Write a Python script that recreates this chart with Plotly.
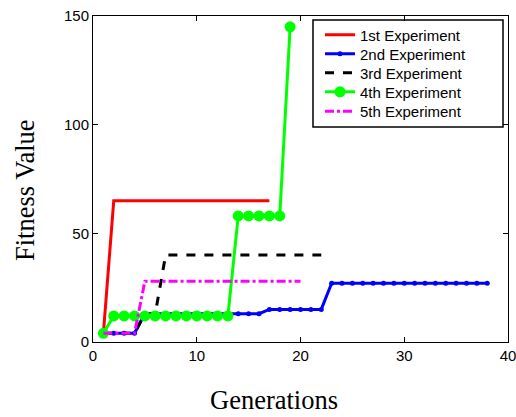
import plotly.graph_objects as go

gens1 = list(range(1, 18))
exp1 = [4] + [65] * 16

gens2 = list(range(1, 39))
exp2 = [4] * 4 + [13] * 12 + [15] * 6 + [27] * 16

gens3 = list(range(1, 23))
exp3 = [4] * 4 + [13] * 2 + [40] * 16

gens4 = list(range(1, 20))
exp4 = [4] + [12] * 12 + [58] * 5 + [145]

gens5 = list(range(1, 21))
exp5 = [4] * 4 + [28] * 16

names = ["1st Experiment", "2nd Experiment", "3rd Experiment", "4th Experiment", "5th Experiment"]
x_title = "Generations"
y_title = "Fitness Value"

# pixel helpers: plot area spans x 93..508, y 16..342 of the 516x417 page
def px(xs):
    return (xs - 93) / 415

def py(ys):
    return (342 - ys) / 326

fig = go.Figure()
fig.add_trace(go.Scatter(x=gens1, y=exp1, name=names[0], mode="lines", legend="legend",
                         line=dict(color="#ff0000", width=3)))
fig.add_trace(go.Scatter(x=gens2, y=exp2, name=names[1], mode="lines+markers", legend="legend2",
                         line=dict(color="#0000ff", width=3),
                         marker=dict(symbol="circle", size=5, color="#0000ff")))
fig.add_trace(go.Scatter(x=gens3, y=exp3, name=names[2], mode="lines", legend="legend3",
                         line=dict(color="#000000", width=3, dash="dash")))
fig.add_trace(go.Scatter(x=gens4, y=exp4, name=names[3], mode="lines+markers", legend="legend4",
                         line=dict(color="#00ff00", width=3),
                         marker=dict(symbol="circle", size=11, color="#00ff00")))
fig.add_trace(go.Scatter(x=gens5, y=exp5, name=names[4], mode="lines", legend="legend5",
                         line=dict(color="#ff00ff", width=3, dash="dashdot")))

axis_common = dict(showline=True, linecolor="black", linewidth=1, mirror="ticks",
                   ticks="inside", ticklen=5, tickcolor="black", showgrid=False,
                   zeroline=False, automargin=False, ticklabeloverflow="allow",
                   tickfont=dict(family="Arial, Liberation Sans", size=15, color="black"))

title_font = dict(family="Times New Roman, Liberation Serif", size=26.5, color="black")
legend_font = dict(family="Arial, Liberation Sans", size=15, color="black")

row_centers = [35, 54, 73, 92, 111.5]
legends = {}
for i, yc in enumerate(row_centers):
    key = "legend" if i == 0 else f"legend{i + 1}"
    legends[key] = dict(x=px(320), y=py(yc), xanchor="left", yanchor="middle",
                        bgcolor="rgba(0,0,0,0)", borderwidth=0, font=legend_font,
                        itemwidth=30)

fig.update_layout(
    width=516, height=417,
    margin=dict(l=93, r=8, t=16, b=75),
    plot_bgcolor="white", paper_bgcolor="white",
    xaxis=dict(range=[0, 40], tickvals=[0, 10, 20, 30, 40], **axis_common),
    yaxis=dict(range=[0, 150], tickvals=[0, 50, 100, 150], **axis_common),
    annotations=[
        dict(text=x_title, xref="paper", yref="paper", x=px(273.5), y=py(400),
             xanchor="center", yanchor="middle", showarrow=False, font=title_font),
        dict(text=y_title, xref="paper", yref="paper", x=px(25), y=py(190),
             xanchor="center", yanchor="middle", showarrow=False, font=title_font,
             textangle=-90),
    ],
    shapes=[dict(type="rect", xref="paper", yref="paper",
                 x0=px(313), x1=px(503), y0=py(127), y1=py(20),
                 line=dict(color="black", width=1.5), fillcolor="white", layer="below")],
    showlegend=True,
    **legends,
)

fig.write_html("out.html", config={"displayModeBar": False}, post_script=(
    "document.body.style.margin='0';"
    "document.body.style.overflow='hidden';"
    "document.documentElement.style.overflow='hidden';"
))
